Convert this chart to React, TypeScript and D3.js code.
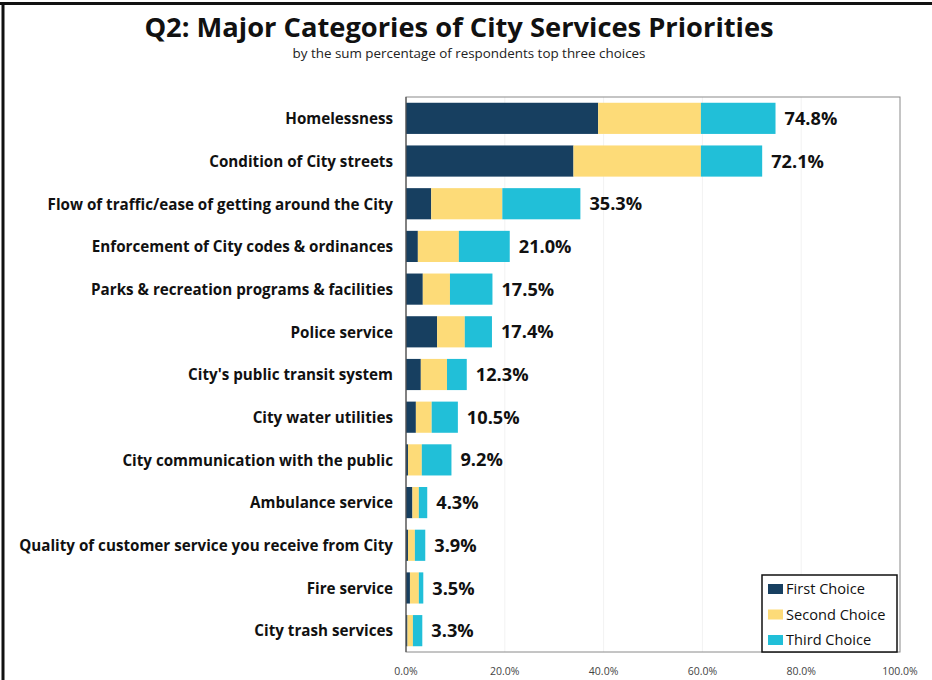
import React from "react";
import * as d3 from "d3";

const categories = [
  "Homelessness",
  "Condition of City streets",
  "Flow of traffic/ease of getting around the City",
  "Enforcement of City codes & ordinances",
  "Parks & recreation programs & facilities",
  "Police service",
  "City's public transit system",
  "City water utilities",
  "City communication with the public",
  "Ambulance service",
  "Quality of customer service you receive from City",
  "Fire service",
  "City trash services",
];
const firstChoice = [38.9, 33.9, 5.1, 2.4, 3.4, 6.3, 3.0, 2.0, 0.4, 1.3, 0.4, 0.8, 0.3];
const secondChoice = [20.8, 25.8, 14.4, 8.3, 5.5, 5.6, 5.3, 3.2, 2.8, 1.3, 1.4, 1.8, 1.1];
const thirdChoice = [15.1, 12.4, 15.8, 10.3, 8.6, 5.5, 4.0, 5.3, 6.0, 1.7, 2.1, 0.9, 1.9];
const totalLabels = ["74.8%", "72.1%", "35.3%", "21.0%", "17.5%", "17.4%", "12.3%", "10.5%", "9.2%", "4.3%", "3.9%", "3.5%", "3.3%"];
const seriesNames = ["First Choice", "Second Choice", "Third Choice"];
const seriesColors = ["#173f60", "#fddb78", "#21bfd8"];
const xTicks = [0, 20, 40, 60, 80, 100];

const W = 932;
const H = 680;
const plot = { left: 406, right: 900, top: 97, bottom: 652 };
const font = "'Open Sans', Lato, sans-serif";

export default function App() {
  const x = d3.scaleLinear().domain([0, 100]).range([plot.left, plot.right]);
  const y = d3
    .scaleBand<string>()
    .domain(categories)
    .range([plot.top, plot.bottom])
    .paddingInner(0.27)
    .paddingOuter(0.135);

  const rows = categories.map((c, i) => ({
    c,
    first: firstChoice[i],
    second: secondChoice[i],
    third: thirdChoice[i],
  }));
  const stack = d3.stack<any>().keys(["first", "second", "third"])(rows);

  return (
    <div>
      <style>{`body{margin:0;}`}</style>
      <svg width={W} height={H} style={{ display: "block", fontFamily: font }}>
        <rect x={0} y={0} width={W} height={H} fill="#fff" />
        {/* outer frame */}
        <line x1={0} x2={W} y1={3.5} y2={3.5} stroke="#111" strokeWidth={3} />
        <line x1={3} x2={3} y1={2} y2={H} stroke="#111" strokeWidth={3} />

        {/* title */}
        <text x={459} y={36.5} textAnchor="middle" fontSize={27.3} fontWeight={700} fill="#111">
          Q2: Major Categories of City Services Priorities
        </text>
        <text x={469} y={57.5} textAnchor="middle" fontSize={13.4} fill="#222">
          by the sum percentage of respondents top three choices
        </text>

        {/* grid */}
        {xTicks.slice(1, -1).map((t) => (
          <line key={t} x1={x(t)} x2={x(t)} y1={plot.top} y2={plot.bottom} stroke="#f2f2f2" strokeWidth={1} />
        ))}

        {/* plot frame */}
        <rect
          x={plot.left}
          y={plot.top}
          width={plot.right - plot.left}
          height={plot.bottom - plot.top}
          fill="none"
          stroke="#8a8a8a"
          strokeWidth={1}
        />

        {/* bars */}
        {stack.map((s, si) =>
          s.map((d, i) => (
            <rect
              key={si + "-" + i}
              x={x(d[0])}
              y={y(categories[i])}
              width={Math.max(0, x(d[1]) - x(d[0]))}
              height={y.bandwidth()}
              fill={seriesColors[si]}
            />
          ))
        )}
        <line x1={plot.left} x2={plot.left} y1={plot.top} y2={plot.bottom} stroke="#555" strokeWidth={1.2} />

        {/* category labels */}
        {categories.map((c) => (
          <text
            key={c}
            x={393}
            y={(y(c) as number) + y.bandwidth() / 2 + 0.5}
            dy="0.35em"
            textAnchor="end"
            fontSize={15.2}
            fontWeight={700}
            fill="#111"
          >
            {c}
          </text>
        ))}

        {/* total labels */}
        {categories.map((c, i) => (
          <text
            key={"t" + c}
            x={x(firstChoice[i] + secondChoice[i] + thirdChoice[i]) + 9}
            y={(y(c) as number) + y.bandwidth() / 2}
            dy="0.36em"
            fontSize={18.2}
            fontWeight={700}
            fill="#111"
          >
            {totalLabels[i]}
          </text>
        ))}

        {/* x tick labels */}
        {xTicks.map((t) => (
          <text key={t} x={x(t)} y={675} textAnchor="middle" fontSize={10.5} fill="#444">
            {t.toFixed(1) + "%"}
          </text>
        ))}

        {/* legend */}
        <rect x={762} y={575} width={135} height={77} fill="#fff" stroke="#111" strokeWidth={1.5} />
        {seriesNames.map((n, i) => (
          <g key={n} transform={`translate(768, ${589 + i * 25.5})`}>
            <rect x={0} y={-5} width={15} height={10} fill={seriesColors[i]} />
            <text x={18} y={0} dy="0.35em" fontSize={14.6} fill="#111">
              {n}
            </text>
          </g>
        ))}
      </svg>
    </div>
  );
}
